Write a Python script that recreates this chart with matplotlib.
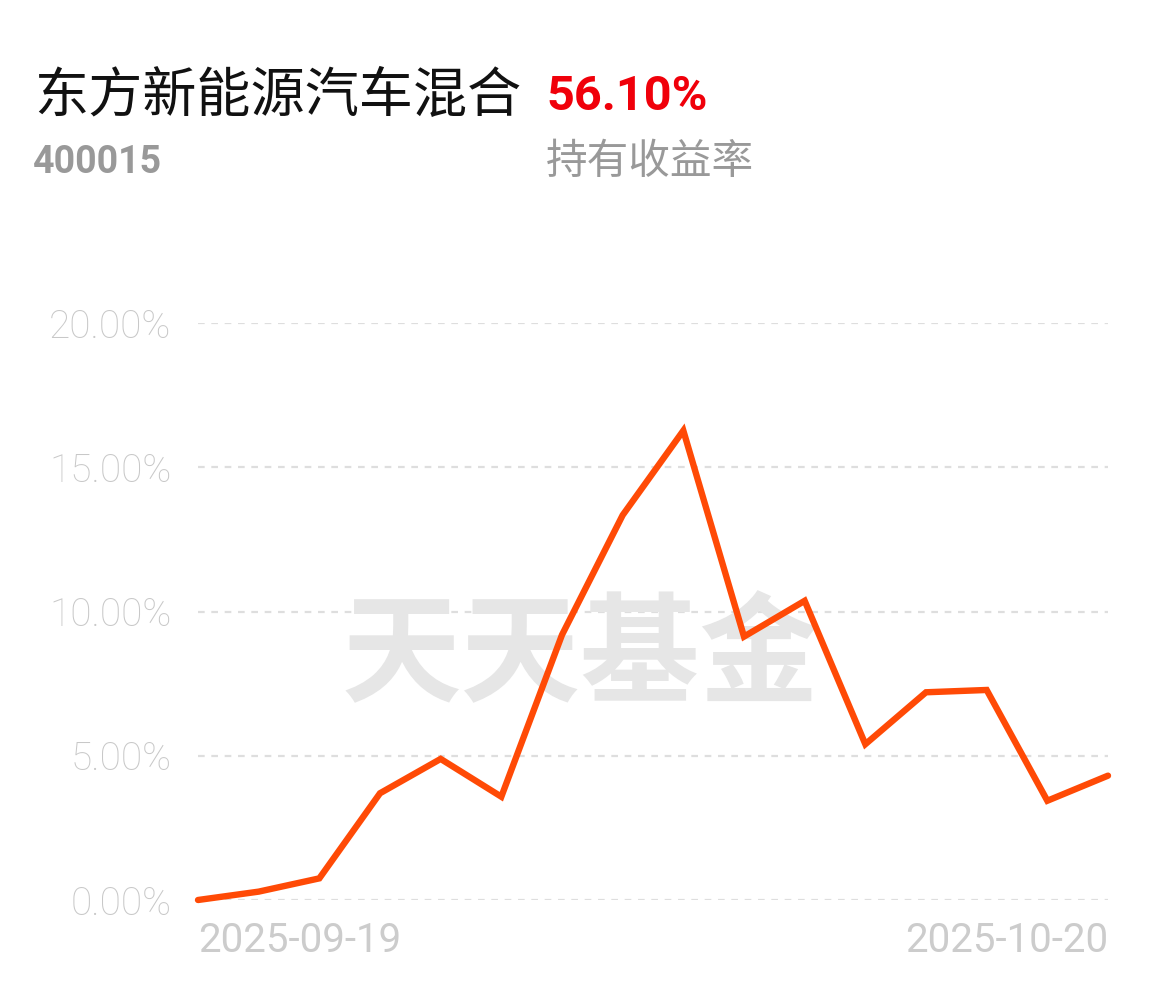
import numpy as np
import matplotlib.pyplot as plt

# fund return curve (%)
fund_name = '东方新能源汽车混合'
fund_code = '400015'
hold_return = '56.10%'
hold_label = '持有收益率'
returns = [0.00, 0.29, 0.75, 3.70, 4.89, 3.58, 9.19, 13.34, 16.27,
           9.13, 10.37, 5.40, 7.20, 7.28, 3.44, 4.31]
ytick_vals = [0, 5, 10, 15, 20]
date_labels = ['2025-09-19', '2025-10-20']

plt.rcParams['font.family'] = ['Noto Sans CJK SC', 'DejaVu Sans']

fig = plt.figure(figsize=(11.58, 9.86), dpi=100)
ax = fig.add_axes([198/1158, 86/986, 910/1158, 577/986])

x = np.arange(len(returns))
ax.plot(x, returns, color='#ff4a06', lw=4.6, solid_joinstyle='miter',
        solid_capstyle='round', clip_on=False, zorder=3)

ax.set_xlim(0, len(returns) - 1)
ax.set_ylim(0, 20)
for v in ytick_vals:
    ax.axhline(v, color='#dedede', lw=1.6, ls=(0, (3, 3)), zorder=0)

ax.set_yticks(ytick_vals)
ax.set_yticklabels(['%.2f%%' % v for v in ytick_vals], family='Roboto',
                   fontsize=28, color='#c8c8c8', fontweight='light')
ax.tick_params(axis='y', length=0, pad=19)

ax.set_xticks([x[0], x[-1]])
ax.set_xticklabels(date_labels, family='Roboto', fontsize=29, color='#cccccc')
ax.tick_params(axis='x', length=0, pad=15)
xl = ax.get_xticklabels()
xl[0].set_ha('left')
xl[1].set_ha('right')

for s in ax.spines.values():
    s.set_visible(False)

# watermark
ax.text(0.42, 0.418, '天天基金', transform=ax.transAxes, ha='center', va='center',
        fontsize=86, fontweight='bold', color='#e6e6e6', zorder=1)

# header
fig.text(34/1158, 1 - 96/986, fund_name, fontsize=39, color='#111111',
         ha='left', va='center')
fig.text(546/1158, 1 - 97/986, hold_return, family='Roboto', fontweight='bold',
         fontsize=35, color='#f0000a', ha='left', va='center')
fig.text(33/1158, 1 - 162/986, fund_code, family='Roboto', fontweight='bold',
         fontsize=27, color='#999999', ha='left', va='center')
fig.text(546/1158, 1 - 162/986, hold_label, fontsize=30, color='#999999',
         ha='left', va='center')

fig.savefig('out.png', dpi=100, facecolor='white')
